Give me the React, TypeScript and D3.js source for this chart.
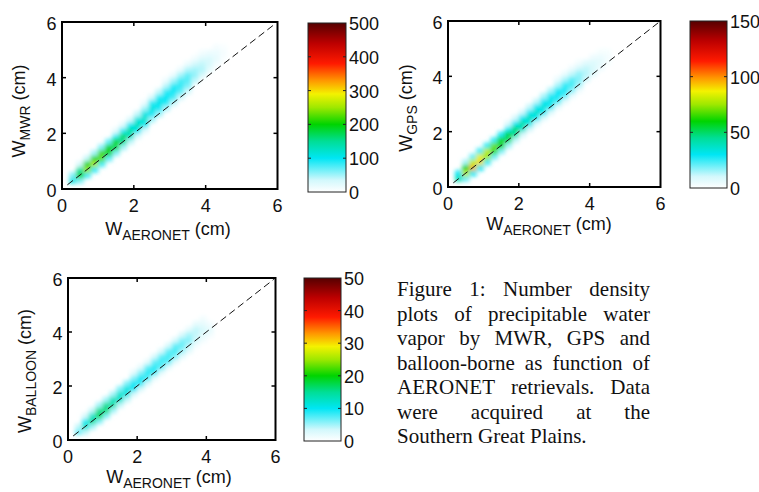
import * as d3 from 'd3';
import { useEffect, useRef } from 'react';

// axis ticks (cm)
const axisTicks = [0, 2, 4, 6];
const innerTicks = [2, 4];

// density columns: [x lower edge (cm), y lower edge (cm), counts in 0.2 cm bins going up]
const mwrColumns: [number, number, number[]][] = [
  [0.2, 0.2, [110, 60]],
  [0.4, 0.2, [60, 200, 140, 30]],
  [0.6, 0.4, [80, 250, 190, 40]],
  [0.8, 0.6, [90, 260, 210, 50]],
  [1.0, 0.8, [80, 230, 220, 60]],
  [1.2, 1.0, [70, 200, 200, 70]],
  [1.4, 1.2, [60, 170, 190, 80, 20]],
  [1.6, 1.4, [50, 145, 165, 90, 25]],
  [1.8, 1.6, [40, 120, 145, 100, 30]],
  [2.0, 1.8, [30, 100, 130, 110, 40]],
  [2.2, 2.0, [25, 90, 120, 110, 50, 15]],
  [2.4, 2.4, [50, 100, 110, 90, 30]],
  [2.6, 2.6, [50, 95, 105, 90, 40]],
  [2.8, 2.8, [45, 90, 100, 90, 45, 15]],
  [3.0, 3.0, [40, 80, 95, 90, 50, 15]],
  [3.2, 3.2, [35, 70, 85, 80, 50, 15]],
  [3.4, 3.4, [30, 60, 75, 70, 45, 15]],
  [3.6, 3.8, [40, 55, 50, 35, 10]],
  [3.8, 4.0, [30, 45, 40, 25, 10]],
  [4.0, 4.2, [20, 30, 28, 15]],
  [4.2, 4.4, [10, 18, 15, 8]],
  [4.4, 4.6, [5, 8, 5]],
];

const gpsColumns: [number, number, number[]][] = [
  [0.2, 0.2, [40, 30]],
  [0.4, 0.2, [20, 80, 60, 15]],
  [0.6, 0.4, [30, 95, 80, 20]],
  [0.8, 0.6, [30, 90, 85, 25]],
  [1.0, 0.8, [25, 75, 80, 25]],
  [1.2, 1.0, [20, 65, 70, 25]],
  [1.4, 1.2, [18, 55, 62, 28]],
  [1.6, 1.4, [15, 48, 55, 28, 8]],
  [1.8, 1.6, [12, 42, 48, 30, 10]],
  [2.0, 1.8, [10, 36, 42, 30, 10]],
  [2.2, 2.0, [10, 32, 38, 30, 12]],
  [2.4, 2.2, [8, 30, 36, 30, 12]],
  [2.6, 2.4, [8, 28, 34, 30, 14]],
  [2.8, 2.6, [8, 26, 32, 28, 14]],
  [3.0, 2.8, [6, 24, 30, 28, 14, 5]],
  [3.2, 3.0, [6, 22, 28, 26, 14, 5]],
  [3.4, 3.2, [5, 18, 24, 22, 12, 4]],
  [3.6, 3.4, [4, 14, 18, 17, 10, 3]],
  [3.8, 3.8, [10, 13, 12, 7]],
  [4.0, 4.0, [7, 9, 8, 4]],
  [4.2, 4.2, [4, 6, 5, 2]],
  [4.4, 4.4, [2, 3, 2]],
];

const balloonColumns: [number, number, number[]][] = [
  [0.2, 0.2, [7, 4]],
  [0.4, 0.2, [4, 12, 9, 3]],
  [0.6, 0.4, [5, 15, 12, 4]],
  [0.8, 0.6, [6, 17, 15, 5]],
  [1.0, 0.8, [6, 16, 15, 5]],
  [1.2, 1.0, [5, 14, 13, 5]],
  [1.4, 1.2, [4, 12, 12, 6]],
  [1.6, 1.4, [4, 11, 11, 6]],
  [1.8, 1.6, [3, 10, 10, 6, 2]],
  [2.0, 1.8, [3, 9, 10, 6, 2]],
  [2.2, 2.0, [3, 8, 9, 7, 2]],
  [2.4, 2.2, [2, 8, 9, 7, 3]],
  [2.6, 2.4, [2, 7, 8, 7, 3]],
  [2.8, 2.6, [2, 7, 8, 7, 3]],
  [3.0, 2.8, [2, 6, 8, 7, 3]],
  [3.2, 3.0, [2, 5, 7, 6, 3]],
  [3.4, 3.2, [2, 4, 6, 5, 2]],
  [3.6, 3.4, [1, 3, 4, 4, 2]],
  [3.8, 3.6, [1, 2, 3, 2, 1]],
  [4.0, 3.8, [1, 2, 1]],
];

const mwrBarTicks = [0, 100, 200, 300, 400, 500];
const gpsBarTicks = [0, 50, 100, 150];
const balloonBarTicks = [0, 10, 20, 30, 40, 50];

const captionLines = [
  'Figure 1: Number density',
  'plots of precipitable water',
  'vapor by MWR, GPS and',
  'balloon-borne as function of',
  'AERONET retrievals. Data',
  'were acquired at the',
  'Southern Great Plains.',
];

// white-to-jet colormap
const mapStops = [0, 0.07, 0.2, 0.3, 0.4, 0.5, 0.58, 0.66, 0.76, 0.88, 1];
const mapColors = ['#ffffff', '#d2f8fc', '#00e6f4', '#00de96', '#00d400', '#9ee800', '#f4f200', '#ff9600', '#ff1a00', '#bc0000', '#560000'];

const BIN = 0.2;
const sans = '"Liberation Sans", Arial, sans-serif';

type Box = { l: number; t: number; r: number; b: number };

function Panel({ id, box, bar, columns, max, barTicks, sub, xLab, yLab }: {
  id: string; box: Box; bar: Box; columns: [number, number, number[]][]; max: number; barTicks: number[];
  sub: string; xLab: [number, number]; yLab: [number, number];
}) {
  const x = d3.scaleLinear().domain([0, 6]).range([box.l, box.r]);
  const y = d3.scaleLinear().domain([0, 6]).range([box.b, box.t]);
  const color = d3.scaleLinear<string>().domain(mapStops.map((s) => s * max)).range(mapColors).clamp(true);
  const cb = d3.scaleLinear().domain([0, max]).range([bar.b, bar.t]);
  const cells = columns.flatMap(([x0, y0, counts]) => counts.map((c, i) => ({ x0, y0: y0 + i * BIN, c })));

  return (
    <g>
      <defs>
        <clipPath id={`clip-${id}`}>
          <rect x={box.l} y={box.t} width={box.r - box.l} height={box.b - box.t} />
        </clipPath>
        <filter id={`blur-${id}`} x="-20%" y="-20%" width="140%" height="140%">
          <feGaussianBlur stdDeviation="2" />
        </filter>
        <linearGradient id={`grad-${id}`} x1="0" y1="1" x2="0" y2="0">
          {mapStops.map((s, i) => <stop key={i} offset={s} stopColor={mapColors[i]} />)}
        </linearGradient>
      </defs>
      <g clipPath={`url(#clip-${id})`}>
        <g filter={`url(#blur-${id})`}>
          {cells.map((d, i) => (
            <rect key={i} x={x(d.x0)} y={y(d.y0 + BIN)} width={x(d.x0 + BIN) - x(d.x0) + 0.3}
              height={y(d.y0) - y(d.y0 + BIN) + 0.3} fill={color(d.c)} />
          ))}
        </g>
      </g>
      <line x1={x(0.15)} y1={y(0.15)} x2={x(5.95)} y2={y(5.95)} stroke="#111" strokeWidth={1} strokeDasharray="7,4" />
      <rect x={box.l} y={box.t} width={box.r - box.l} height={box.b - box.t} fill="none" stroke="#000" strokeWidth={2} />
      {innerTicks.map((v) => (
        <g key={v} stroke="#000" strokeWidth={1.5}>
          <line x1={x(v)} x2={x(v)} y1={box.b} y2={box.b - 4} />
          <line x1={x(v)} x2={x(v)} y1={box.t} y2={box.t + 4} />
          <line x1={box.l} x2={box.l + 4} y1={y(v)} y2={y(v)} />
          <line x1={box.r} x2={box.r - 4} y1={y(v)} y2={y(v)} />
        </g>
      ))}
      <g fontFamily={sans} fontSize={18} fill="#111">
        {axisTicks.map((v) => (
          <text key={`x${v}`} x={x(v)} y={box.b + 23} textAnchor="middle">{v}</text>
        ))}
        {axisTicks.map((v) => (
          <text key={`y${v}`} x={box.l - 5.5} y={y(v) + 8} textAnchor="end">{v}</text>
        ))}
        <text x={xLab[0]} y={xLab[1]} textAnchor="middle">
          W<tspan fontSize={14} dy={5}>AERONET</tspan><tspan dy={-5}> (cm)</tspan>
        </text>
        <text transform={`translate(${yLab[0]},${yLab[1]}) rotate(-90)`} textAnchor="middle">
          W<tspan fontSize={14} dy={5}>{sub}</tspan><tspan dy={-5}> (cm)</tspan>
        </text>
      </g>
      <rect x={bar.l} y={bar.t} width={bar.r - bar.l} height={bar.b - bar.t} fill={`url(#grad-${id})`} stroke="#222" strokeWidth={1} />
      {barTicks.slice(1, -1).map((v) => (
        <g key={v} stroke="#222" strokeWidth={1}>
          <line x1={bar.l} x2={bar.l + 3} y1={cb(v)} y2={cb(v)} />
          <line x1={bar.r} x2={bar.r - 3} y1={cb(v)} y2={cb(v)} />
        </g>
      ))}
      <g fontFamily={sans} fontSize={18} fill="#111">
        {barTicks.map((v) => (
          <text key={v} x={bar.r + 3} y={cb(v) + 7}>{v}</text>
        ))}
      </g>
    </g>
  );
}

const capLeft = 397;
const capRight = 650;
const capBase = 296;
const capLead = 24.5;

export default function App() {
  const capRef = useRef<SVGGElement>(null);

  useEffect(() => {
    const g = d3.select(capRef.current);
    g.selectAll('*').remove();
    captionLines.forEach((line, i) => {
      const base = capBase + i * capLead;
      if (i === captionLines.length - 1) {
        g.append('text').attr('x', capLeft).attr('y', base).text(line);
        return;
      }
      const words = line.split(' ');
      const texts = words.map((w) => g.append('text').attr('y', base).text(w));
      const widths = texts.map((t) => (t.node() as SVGTextElement).getComputedTextLength());
      const gap = (capRight - capLeft - d3.sum(widths)) / (words.length - 1);
      let cx = capLeft;
      texts.forEach((t, j) => {
        t.attr('x', cx);
        cx += widths[j] + gap;
      });
    });
  }, []);

  return (
    <svg width={759} height={492} style={{ position: 'absolute', left: 0, top: 0, background: '#fff' }}>
      <Panel id="mwr" box={{ l: 62, t: 22, r: 277.5, b: 189 }} bar={{ l: 308, t: 23, r: 346, b: 192 }}
        columns={mwrColumns} max={500} barTicks={mwrBarTicks} sub="MWR" xLab={[168, 235]} yLab={[25, 111]} />
      <Panel id="gps" box={{ l: 448, t: 21, r: 660.5, b: 187 }} bar={{ l: 690, t: 21, r: 727, b: 188 }}
        columns={gpsColumns} max={150} barTicks={gpsBarTicks} sub="GPS" xLab={[549, 230]} yLab={[412, 108]} />
      <Panel id="balloon" box={{ l: 68, t: 278, r: 275.5, b: 440 }} bar={{ l: 304, t: 278, r: 341, b: 441 }}
        columns={balloonColumns} max={50} barTicks={balloonBarTicks} sub="BALLOON" xLab={[169, 483]} yLab={[31, 371]} />
      <g ref={capRef} fontFamily='"Liberation Serif", "Times New Roman", serif' fontSize={21} fill="#111" />
    </svg>
  );
}
